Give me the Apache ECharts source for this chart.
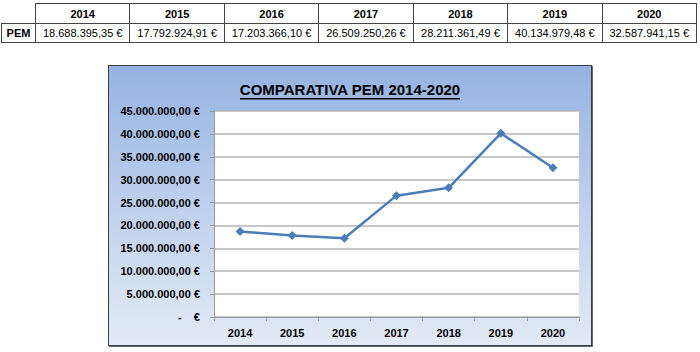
<!DOCTYPE html>
<html>
<head>
<meta charset="utf-8">
<script src="https://cdn.jsdelivr.net/npm/echarts@6/dist/echarts.min.js"></script>
<style>
  html,body{margin:0;padding:0;width:700px;height:352px;background:#fff;overflow:hidden;}
  #tbl{position:absolute;left:1px;top:3px;border-collapse:collapse;table-layout:fixed;width:696px;
       font-family:"Liberation Sans",Arial,sans-serif;font-size:11px;color:#000;}
  #tbl td{border:1px solid #444;text-align:center;padding:0;white-space:nowrap;}
  #tbl tr.h td{height:19px;font-weight:bold;}
  #tbl tr.d td{height:18px;}
  #tbl td.corner{border:none;border-bottom:1px solid #444;}
  #tbl td.lab{font-weight:bold;}
  #box{position:absolute;left:108px;top:65px;width:484px;height:281px;box-sizing:border-box;
       border:1px solid #3c3c3c;box-shadow:1px 1px 0 #6a6a6a;
       background:linear-gradient(to bottom,#95b3e2 0%,#c2d3ee 55%,#e3eaf6 100%);}
  #chart{width:100%;height:100%;}
</style>
</head>
<body>
<table id="tbl"></table>
<div id="box"><div id="chart"></div></div>
<script>
const years = ['2014','2015','2016','2017','2018','2019','2020'];
const pemValues = [18688395.35, 17792924.91, 17203366.10, 26509250.26, 28211361.49, 40134979.48, 32587941.15];
const rowLabel = 'PEM';
const chartTitle = 'COMPARATIVA PEM 2014-2020';

function fmtEuro(v){
  const parts = v.toFixed(2).split('.');
  const intPart = parts[0].replace(/\B(?=(\d{3})+(?!\d))/g,'.');
  return intPart + ',' + parts[1] + ' €';
}

// table
const tbl = document.getElementById('tbl');
let html = '<colgroup><col style="width:34px">' + years.map(()=>'<col>').join('') + '</colgroup>';
html += '<tr class="h"><td class="corner"></td>' + years.map(y=>'<td>'+y+'</td>').join('') + '</tr>';
html += '<tr class="d"><td class="lab">'+rowLabel+'</td>' + pemValues.map(v=>'<td>'+fmtEuro(v)+'</td>').join('') + '</tr>';
tbl.innerHTML = html;

const chart = echarts.init(document.getElementById('chart'), null, {renderer:'svg'});
const font = '"Liberation Sans", Arial, sans-serif';
chart.setOption({
  backgroundColor:'transparent',
  animation:false,
  title:{
    text: chartTitle,
    left:'center', top:11,
    textStyle:{fontFamily:font,fontSize:15,fontWeight:'bold',color:'#000'}
  },
  graphic:[{
    type:'rect', left:'center', top:32,
    shape:{width:220,height:1.5},
    style:{fill:'#000'}
  }],
  grid:{left:105, top:45, right:12, bottom:28, show:true, backgroundColor:'#fff', borderWidth:0},
  xAxis:{
    type:'category', data:years, boundaryGap:true,
    axisLine:{lineStyle:{color:'#9a9a9a',width:1}},
    axisTick:{show:true,length:4,lineStyle:{color:'#9a9a9a'}},
    axisLabel:{fontFamily:font,fontSize:11,fontWeight:'bold',color:'#000',margin:10}
  },
  yAxis:{
    type:'value', min:0, max:45000000, interval:5000000,
    axisLine:{show:true,lineStyle:{color:'#9a9a9a',width:1}},
    axisTick:{show:true,length:4,lineStyle:{color:'#9a9a9a'}},
    splitLine:{lineStyle:{color:'#b4b4b4',width:1.5}},
    axisLabel:{fontFamily:font,fontSize:11,fontWeight:'bold',color:'#000',margin:14,
      formatter:v=> v===0 ? '-    €' : fmtEuro(v)}
  },
  series:[{
    type:'line', data:pemValues,
    symbol:'diamond', symbolSize:9,
    lineStyle:{color:'#4a7ebb',width:2.5},
    itemStyle:{color:'#4a7ebb'}
  }]
});
</script>
</body>
</html>
